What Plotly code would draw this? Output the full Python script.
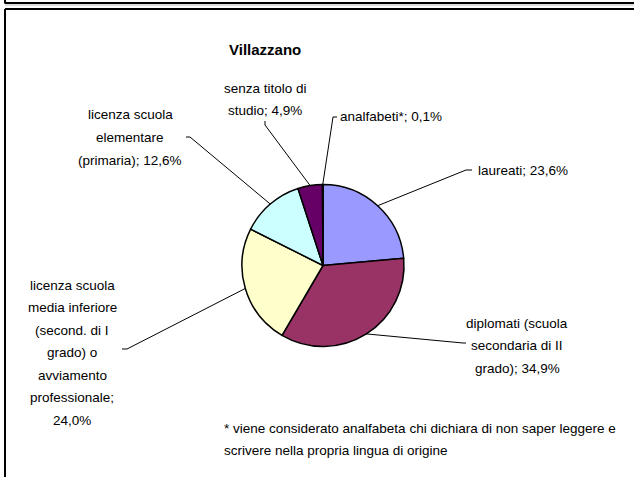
import math
import plotly.graph_objects as go

W, H = 634, 477

categories = [
    "laureati",
    "diplomati (scuola secondaria di II grado)",
    "licenza scuola media inferiore (second. di I grado) o avviamento professionale",
    "licenza scuola elementare (primaria)",
    "senza titolo di studio",
    "analfabeti*",
]
values = [23.6, 34.9, 24.0, 12.6, 4.9, 0.1]
value_labels = ["23,6%", "34,9%", "24,0%", "12,6%", "4,9%", "0,1%"]
colors = ["#9999FF", "#993366", "#FFFFCC", "#CCFFFF", "#660066", "#FF8080"]

# label text broken into lines as in the reference
label_lines = [
    ["laureati; 23,6%"],
    ["diplomati (scuola", "secondaria di II", "grado); 34,9%"],
    ["licenza scuola", "media inferiore", "(second. di I", "grado) o", "avviamento", "professionale;", "24,0%"],
    ["licenza scuola", "elementare", "(primaria); 12,6%"],
    ["senza titolo di", "studio; 4,9%"],
    ["analfabeti*; 0,1%"],
]
title = "Villazzano"
footnote = ["* viene considerato analfabeta chi dichiara di non saper leggere e",
            "scrivere nella propria lingua di origine"]

# layout (pixels)
cx, cy, R = 323, 265.5, 81
label_pos = [  # (x, first line y, anchor)
    (476, 170, "left"),
    (517, 323, "center"),
    (72, 285, "center"),
    (130, 115, "center"),
    (265, 88, "center"),
    (338, 117, "left"),
]
elbows = [  # leader line elbow and end points
    [(466, 170), (472, 170)],
    [(463, 343), (466, 343)],
    [(127, 349), (122, 349)],
    [(190, 137), (186, 137)],
    [(265, 125), (265, 121)],
    [(333, 117), (337, 117)],
]
LINE_H = 22.5
FS = 13.5
FONT = "Liberation Sans, Arial, sans-serif"


def px(x):
    return x / W


def py(y):
    return 1 - y / H


fig = go.Figure(go.Pie(
    labels=categories,
    values=values,
    sort=False,
    direction="clockwise",
    rotation=0,
    marker=dict(colors=colors, line=dict(color="black", width=1.5)),
    textinfo="none",
    hoverinfo="label+percent",
    showlegend=False,
    domain=dict(x=[px(cx - R), px(cx + R)], y=[py(cy + R), py(cy - R)]),
))

annotations = []
shapes = []

total = sum(values)
cum = 0.0
for i, v in enumerate(values):
    mid = (cum + v / 2) / total * 2 * math.pi
    cum += v
    sx = cx + R * math.sin(mid)
    sy = cy - R * math.cos(mid)
    pts = [(sx, sy)] + elbows[i]
    for (x0, y0), (x1, y1) in zip(pts[:-1], pts[1:]):
        shapes.append(dict(type="line", xref="paper", yref="paper",
                           x0=px(x0), y0=py(y0), x1=px(x1), y1=py(y1),
                           line=dict(color="black", width=1)))
    lx, ly, anc = label_pos[i]
    for j, t in enumerate(label_lines[i]):
        annotations.append(dict(text=t, x=px(lx), y=py(ly + j * LINE_H),
                                xref="paper", yref="paper", xanchor=anc, yanchor="middle",
                                showarrow=False, font=dict(family=FONT, size=FS, color="black")))

annotations.append(dict(text="<b>" + title + "</b>", x=px(265), y=py(49), xref="paper", yref="paper",
                        xanchor="center", yanchor="middle", showarrow=False,
                        font=dict(family=FONT, size=15, color="black")))
for j, t in enumerate(footnote):
    annotations.append(dict(text=t, x=px(222), y=py(428 + j * 22), xref="paper", yref="paper",
                            xanchor="left", yanchor="middle", showarrow=False,
                            font=dict(family=FONT, size=FS, color="black")))

# frame lines
shapes += [
    dict(type="line", xref="paper", yref="paper", x0=px(5), y0=py(0), x1=px(5), y1=py(3.5),
         line=dict(color="black", width=2)),
    dict(type="line", xref="paper", yref="paper", x0=px(5), y0=py(3), x1=px(634), y1=py(3),
         line=dict(color="black", width=2)),
    dict(type="line", xref="paper", yref="paper", x0=px(5), y0=py(5), x1=px(634), y1=py(5),
         line=dict(color="#bbbbbb", width=1)),
    dict(type="line", xref="paper", yref="paper", x0=px(5), y0=py(9), x1=px(634), y1=py(9),
         line=dict(color="black", width=2)),
    dict(type="line", xref="paper", yref="paper", x0=px(5), y0=py(9), x1=px(5), y1=py(477),
         line=dict(color="black", width=2)),
]

fig.update_layout(
    width=W, height=H,
    margin=dict(l=0, r=0, t=0, b=0),
    paper_bgcolor="white", plot_bgcolor="white",
    annotations=annotations, shapes=shapes,
)

fig.write_html("out.html",
               config={"displayModeBar": False},
               post_script="document.body.style.margin='0';document.body.style.padding='0';")
